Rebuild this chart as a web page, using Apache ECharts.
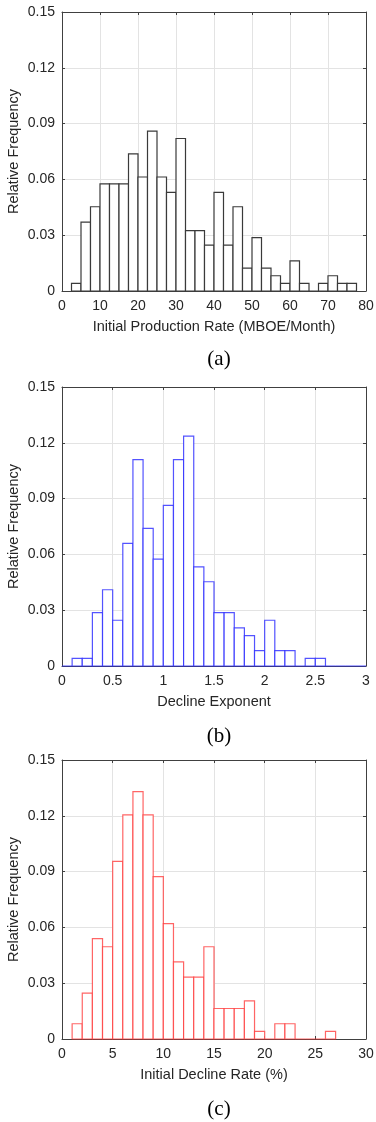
<!DOCTYPE html>
<html>
<head>
<meta charset="utf-8">
<script src="https://cdn.jsdelivr.net/npm/echarts@6/dist/echarts.min.js"></script>
<style>
html,body{margin:0;padding:0;background:#fff;}
#chart{width:376px;height:1122px;}
</style>
</head>
<body>
<div id="chart"></div>
<script>
// ---- Data ----
// (a) Initial Production Rate, bins of 2.5 starting at 2.5
const prodRateStart = 2.5;
const prodRateWidth = 2.5;
const prodRateFreq = [0.0041, 0.0370, 0.0453, 0.0576, 0.0576, 0.0576, 0.0737, 0.0613, 0.0860, 0.0613,
  0.0530, 0.0820, 0.0325, 0.0325, 0.0247, 0.0530, 0.0247, 0.0453, 0.0123, 0.0287,
  0.0123, 0.0082, 0.0041, 0.0162, 0.0041, 0, 0.0041, 0.0082, 0.0041, 0.0041];
// (b) Decline Exponent, bins of 0.1 starting at 0
const declineExpStart = 0;
const declineExpWidth = 0.1;
const declineExpFreq = [0, 0.0041, 0.0041, 0.0287, 0.0410, 0.0246, 0.0659, 0.1110, 0.0740, 0.0575,
  0.0864, 0.1110, 0.1236, 0.0533, 0.0453, 0.0287, 0.0287, 0.0205, 0.0163, 0.0083,
  0.0246, 0.0083, 0.0083, 0, 0.0041, 0.0041, 0, 0, 0, 0];
// (c) Initial Decline Rate, bins of 1 starting at 1
const declineRateStart = 1;
const declineRateWidth = 1;
const declineRateFreq = [0.0082, 0.0247, 0.0540, 0.0496, 0.0955, 0.1205, 0.1330, 0.1205, 0.0873, 0.0620,
  0.0415, 0.0333, 0.0333, 0.0496, 0.0164, 0.0164, 0.0164, 0.0205, 0.0041, 0,
  0.0082, 0.0082, 0, 0, 0, 0.0041];

const yTickInterval = 0.03;
const yMax = 0.15;
const xAxisNames = ['Initial Production Rate (MBOE/Month)', 'Decline Exponent', 'Initial Decline Rate (%)'];
const xMins = [0, 0, 0];
const xMaxs = [80, 3, 30];
const xIntervals = [10, 0.5, 5];
const captions = ['(a)', '(b)', '(c)'];
const yAxisName = 'Relative Frequency';

// ---- Layout ----
const gridTops = [12, 387, 760];
const gridHeight = 279;
const edgeColors = ['#3a3a3a', 'rgba(40,40,255,0.8)', 'rgba(255,50,50,0.75)'];
const captionTops = [344, 721, 1094];

function bins(freq, start, width) {
  return freq.map((v, i) => [start + i * width, start + (i + 1) * width, v]);
}
const datasets = [
  bins(prodRateFreq, prodRateStart, prodRateWidth),
  bins(declineExpFreq, declineExpStart, declineExpWidth),
  bins(declineRateFreq, declineRateStart, declineRateWidth)
];

const axisColor = '#404040';
const textColor = '#262626';
const font = 'Liberation Sans, Arial, sans-serif';

const grids = [], xAxes = [], yAxes = [], series = [], titles = [];
for (let k = 0; k < 3; k++) {
  grids.push({left: 62, right: 10, top: gridTops[k], height: gridHeight, containLabel: false, outerBoundsMode: 'none'});
  // bottom x
  xAxes.push({
    type: 'value', gridIndex: k, position: 'bottom', min: xMins[k], max: xMaxs[k], interval: xIntervals[k],
    name: xAxisNames[k], nameLocation: 'middle', nameGap: 28, nameMoveOverlap: false,
    nameTextStyle: {fontFamily: font, fontSize: 14.5, color: textColor},
    axisLine: {show: true, onZero: false, lineStyle: {color: axisColor, width: 1}},
    axisTick: {show: true, inside: true, length: 3, lineStyle: {color: axisColor}},
    axisLabel: {fontFamily: font, fontSize: 14, color: textColor, margin: 8,
      formatter: v => String(Math.round(v * 100) / 100)},
    splitLine: {show: true, lineStyle: {color: '#e3e3e3', width: 1}}
  });
  // top x (frame)
  xAxes.push({
    type: 'value', gridIndex: k, position: 'top', min: xMins[k], max: xMaxs[k], interval: xIntervals[k],
    axisLine: {show: true, onZero: false, lineStyle: {color: axisColor, width: 1}},
    axisTick: {show: true, inside: true, length: 3, lineStyle: {color: axisColor}},
    axisLabel: {show: false}, splitLine: {show: false}
  });
  // left y
  yAxes.push({
    type: 'value', gridIndex: k, position: 'left', min: 0, max: yMax, interval: yTickInterval,
    name: yAxisName, nameLocation: 'middle', nameGap: 41, nameMoveOverlap: false,
    nameTextStyle: {fontFamily: font, fontSize: 14.5, color: textColor},
    axisLine: {show: true, onZero: false, lineStyle: {color: axisColor, width: 1}},
    axisTick: {show: true, inside: true, length: 3, lineStyle: {color: axisColor}},
    axisLabel: {fontFamily: font, fontSize: 14, color: textColor, margin: 7,
      formatter: v => (Math.abs(v) < 1e-9 ? '0' : v.toFixed(2))},
    splitLine: {show: true, lineStyle: {color: '#e3e3e3', width: 1}}
  });
  // right y (frame)
  yAxes.push({
    type: 'value', gridIndex: k, position: 'right', min: 0, max: yMax, interval: yTickInterval,
    axisLine: {show: true, onZero: false, lineStyle: {color: axisColor, width: 1}},
    axisTick: {show: true, inside: true, length: 3, lineStyle: {color: axisColor}},
    axisLabel: {show: false}, splitLine: {show: false}
  });
  const color = edgeColors[k];
  series.push({
    type: 'custom',
    xAxisIndex: 2 * k, yAxisIndex: 2 * k,
    data: datasets[k],
    encode: {x: [0, 1], y: 2},
    renderItem: function (params, api) {
      const p0 = api.coord([api.value(0), api.value(2)]);
      const p1 = api.coord([api.value(1), 0]);
      return {
        type: 'rect',
        shape: {x: p0[0], y: p0[1], width: p1[0] - p0[0], height: p1[1] - p0[1]},
        style: {fill: '#ffffff', stroke: color, lineWidth: 1.2}
      };
    },
    silent: true,
    animation: false
  });
  titles.push({
    text: captions[k], left: 214, top: captionTops[k], textAlign: 'center',
    textStyle: {fontFamily: 'Liberation Serif, Times New Roman, serif', fontSize: 21, fontWeight: 'normal', color: '#000'}
  });
}

const chart = echarts.init(document.getElementById('chart'), null, {renderer: 'canvas'});
chart.setOption({
  animation: false,
  backgroundColor: '#ffffff',
  title: titles,
  grid: grids,
  xAxis: xAxes,
  yAxis: yAxes,
  series: series
});
</script>
</body>
</html>
